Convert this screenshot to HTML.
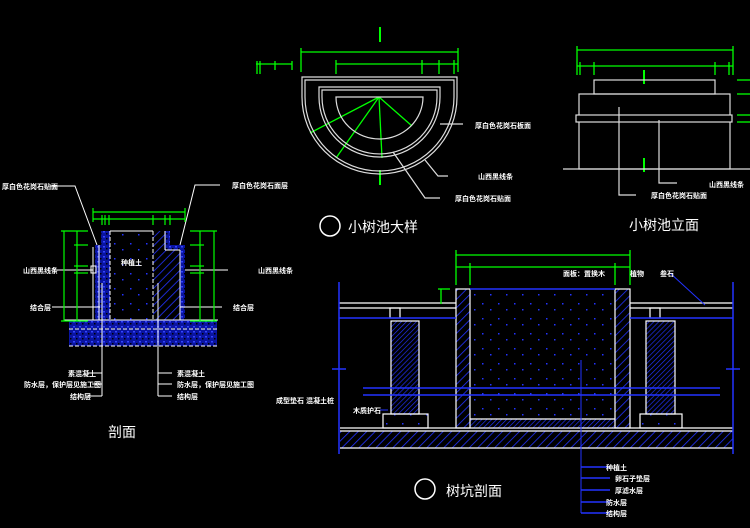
<!DOCTYPE html>
<html><head><meta charset="utf-8"><style>html,body{margin:0;padding:0;background:#000}svg{display:block}
text{font-family:"Liberation Sans","Noto Sans CJK SC",sans-serif;fill:#fff}</style></head><body>
<svg width="750" height="528" viewBox="0 0 750 528" xmlns="http://www.w3.org/2000/svg">
<defs>
<pattern id="h" width="6" height="6" patternUnits="userSpaceOnUse" patternTransform="rotate(45)"><rect width="6" height="6" fill="#000"/><line x1="0" y1="0" x2="0" y2="6" stroke="#2233ff" stroke-width="1.6"/></pattern>
<pattern id="h2" width="3.5" height="3.5" patternUnits="userSpaceOnUse" patternTransform="rotate(45)"><rect width="4" height="4" fill="#000"/><line x1="0" y1="0" x2="0" y2="4" stroke="#2233ff" stroke-width="1.3"/></pattern>
<pattern id="d" width="16" height="15" patternUnits="userSpaceOnUse"><rect width="16" height="15" fill="#000"/><rect x="2" y="3" width="1.5" height="1.5" fill="#2233ff"/><rect x="10" y="9" width="1.5" height="1.5" fill="#2233ff"/></pattern>
<pattern id="dd" width="6" height="5" patternUnits="userSpaceOnUse"><rect width="6" height="5" fill="#0a14a0"/><rect x="1" y="1" width="2" height="1.5" fill="#3344ff"/><rect x="4" y="3" width="1.5" height="1.5" fill="#000"/></pattern>
<pattern id="hd" width="6" height="6" patternUnits="userSpaceOnUse" patternTransform="rotate(45)"><rect width="6" height="6" fill="#0a14a0"/><line x1="0" y1="0" x2="0" y2="6" stroke="#3344ff" stroke-width="2"/></pattern>
</defs>

<!-- TOP PLAN -->
<g stroke="#0f0" stroke-width="1.3" fill="none">
<line x1="380" y1="27" x2="380" y2="42" stroke-width="2"/>
<line x1="301" y1="52" x2="458" y2="52"/><line x1="301" y1="48" x2="301" y2="72"/><line x1="458" y1="48" x2="458" y2="72"/>
<line x1="256" y1="64" x2="292" y2="64"/><line x1="257" y1="61" x2="257" y2="74"/><line x1="260" y1="61" x2="260" y2="74"/><line x1="275" y1="61" x2="275" y2="70"/><line x1="292" y1="61" x2="292" y2="70"/>
<line x1="336" y1="64" x2="458" y2="64"/><line x1="336" y1="60" x2="336" y2="74"/><line x1="422" y1="60" x2="422" y2="74"/><line x1="439" y1="60" x2="439" y2="74"/><line x1="454" y1="60" x2="454" y2="74"/>
<line x1="380" y1="170" x2="380" y2="185" stroke-width="2"/>
<line x1="379" y1="97" x2="310" y2="133"/><line x1="379" y1="97" x2="336" y2="158"/><line x1="379" y1="97" x2="382" y2="158"/><line x1="379" y1="97" x2="412" y2="126"/>
</g>
<g stroke="#ddd" stroke-width="1.2" fill="none">
<path d="M302,77 L457,77 L457,97 A77.5,77 0 0 1 302,97 Z"/>
<path d="M305,80 L454,80 L454,97 A74.5,74 0 0 1 305,97 Z"/>
<path d="M319,87 L440,87 L440,97 A60.5,60 0 0 1 319,97 Z"/>
<path d="M322,90 L437,90 L437,97 A57.5,57 0 0 1 322,97 Z"/>
<path d="M336,97 L423,97 A43.5,42 0 0 1 336,97 Z"/>
<line x1="440" y1="124" x2="463" y2="124"/>
<polyline points="425,160 438,176 448,176"/>
<polyline points="393,152 425,198 440,198"/>
</g>
<g font-size="7" font-weight="bold">
<text x="475" y="128">厚白色花岗石板面</text>
<text x="478" y="179">山西黑线条</text>
<text x="455" y="201">厚白色花岗石贴面</text>
</g>
<circle cx="330" cy="226" r="10" stroke="#fff" stroke-width="1.5" fill="none"/>
<text x="348" y="232" font-size="14">小树池大样</text>

<!-- ELEVATION -->
<g stroke="#0f0" stroke-width="1.3" fill="none">
<line x1="577" y1="50" x2="733" y2="50"/><line x1="577" y1="46" x2="577" y2="75"/><line x1="733" y1="46" x2="733" y2="75"/>
<line x1="577" y1="66" x2="733" y2="66"/><line x1="580" y1="62" x2="580" y2="75"/><line x1="594" y1="62" x2="594" y2="75"/><line x1="715" y1="62" x2="715" y2="75"/><line x1="729" y1="62" x2="729" y2="75"/>
<line x1="644" y1="70" x2="644" y2="84" stroke-width="2"/><line x1="644" y1="158" x2="644" y2="172" stroke-width="2"/>
<line x1="737" y1="80" x2="750" y2="80"/><line x1="737" y1="94" x2="750" y2="94"/><line x1="737" y1="115" x2="750" y2="115"/><line x1="737" y1="122" x2="750" y2="122"/>
</g>
<g stroke="#ddd" stroke-width="1.2" fill="none">
<rect x="594" y="80" width="121" height="14"/>
<rect x="579" y="94" width="151" height="75"/>
<rect x="576" y="115" width="156" height="7" fill="#000"/>
<line x1="563" y1="169" x2="750" y2="169"/>
<polyline points="619,107 619,195 636,195"/>
<polyline points="659,120 659,183 677,183"/>
</g>
<g font-size="7" font-weight="bold">
<text x="651" y="198">厚白色花岗石贴面</text>
<text x="709" y="187">山西黑线条</text>
</g>
<text x="629" y="230" font-size="14">小树池立面</text>

<!-- SECTION LEFT -->
<rect x="69" y="320" width="148" height="26" fill="url(#dd)"/>
<line x1="69" y1="329" x2="217" y2="329" stroke="#fff" stroke-dasharray="4,2"/>
<line x1="69" y1="346" x2="217" y2="346" stroke="#fff" stroke-dasharray="4,2"/>
<rect x="101" y="231" width="9" height="89" fill="url(#dd)"/>
<rect x="95" y="245" width="6" height="75" fill="url(#dd)"/>
<rect x="110" y="231" width="43" height="89" fill="url(#d)"/>
<path d="M153,231 L165,231 L165,250 L180,250 L180,320 L153,320 Z" fill="url(#h)"/>
<path d="M165,231 L170,231 L170,245 L185,245 L185,320 L180,320 L180,250 L165,250 Z" fill="url(#dd)"/>
<g stroke="#fff" stroke-width="1" fill="none">
<line x1="110" y1="231" x2="153" y2="231"/>
<line x1="110" y1="231" x2="110" y2="320" stroke-dasharray="4,2"/>
<line x1="153" y1="231" x2="153" y2="320" stroke-dasharray="4,2"/>
<line x1="99" y1="245" x2="99" y2="320"/><line x1="93" y1="247" x2="93" y2="320"/>
<line x1="165" y1="231" x2="165" y2="250"/><line x1="165" y1="250" x2="180" y2="250"/><line x1="180" y1="250" x2="180" y2="320"/>
<line x1="64" y1="320" x2="218" y2="320"/>
<rect x="91" y="266" width="5" height="7"/>
<line x1="102" y1="283" x2="102" y2="396"/><line x1="158" y1="283" x2="158" y2="396"/>
<line x1="88" y1="373" x2="102" y2="373"/><line x1="92" y1="384" x2="102" y2="384"/><line x1="88" y1="396" x2="102" y2="396"/>
<line x1="158" y1="373" x2="172" y2="373"/><line x1="158" y1="384" x2="172" y2="384"/><line x1="158" y1="396" x2="172" y2="396"/>
<polyline points="50,186 75,186 97,245"/>
<polyline points="220,185 195,185 180,245"/>
<line x1="52" y1="270" x2="93" y2="270"/><line x1="185" y1="270" x2="228" y2="270"/>
<line x1="52" y1="307" x2="100" y2="307"/><line x1="180" y1="307" x2="222" y2="307"/>
</g>
<g stroke="#0f0" stroke-width="1.2" fill="none">
<line x1="93" y1="212" x2="185" y2="212"/><line x1="93" y1="208" x2="93" y2="222"/><line x1="185" y1="208" x2="185" y2="222"/>
<line x1="93" y1="219" x2="185" y2="219"/><line x1="102" y1="215" x2="102" y2="225"/><line x1="105" y1="215" x2="105" y2="225"/><line x1="109" y1="215" x2="109" y2="225"/><line x1="153" y1="215" x2="153" y2="225"/><line x1="165" y1="215" x2="165" y2="225"/><line x1="170" y1="215" x2="170" y2="225"/>
<line x1="64" y1="231" x2="64" y2="321"/><line x1="77" y1="231" x2="77" y2="321"/>
<line x1="61" y1="231" x2="88" y2="231"/><line x1="61" y1="321" x2="88" y2="321"/><line x1="74" y1="245" x2="88" y2="245"/><line x1="74" y1="266" x2="88" y2="266"/><line x1="74" y1="273" x2="88" y2="273"/>
<line x1="200" y1="231" x2="200" y2="321"/><line x1="214" y1="231" x2="214" y2="321"/>
<line x1="190" y1="231" x2="217" y2="231"/><line x1="190" y1="321" x2="217" y2="321"/><line x1="190" y1="245" x2="204" y2="245"/><line x1="190" y1="266" x2="204" y2="266"/><line x1="190" y1="273" x2="204" y2="273"/>
</g>
<g font-size="7" font-weight="bold">
<text x="2" y="189">厚白色花岗石贴面</text>
<text x="232" y="188">厚白色花岗石面层</text>
<text x="23" y="273">山西黑线条</text>
<text x="258" y="273">山西黑线条</text>
<text x="30" y="310">结合层</text>
<text x="233" y="310">结合层</text>
<text x="121" y="265">种植土</text>
<text x="68" y="376">素混凝土</text>
<text x="24" y="387">防水层，保护层见施工图</text>
<text x="70" y="399">结构层</text>
<text x="177" y="376">素混凝土</text>
<text x="177" y="387">防水层，保护层见施工图</text>
<text x="177" y="399">结构层</text>
</g>
<text x="108" y="437" font-size="14">剖面</text>

<!-- SECTION RIGHT -->
<rect x="340" y="431" width="393" height="17" fill="url(#h)"/>
<rect x="470" y="289" width="145" height="130" fill="url(#d)"/>
<rect x="470" y="419" width="145" height="9" fill="url(#h2)"/>
<rect x="456" y="289" width="14" height="139" fill="url(#h)"/>
<rect x="615" y="289" width="15" height="139" fill="url(#h)"/>
<rect x="391" y="321" width="28" height="93" fill="url(#h2)"/>
<rect x="646" y="321" width="29" height="93" fill="url(#h2)"/>
<rect x="383" y="414" width="45" height="14" fill="url(#d)"/>
<rect x="640" y="414" width="42" height="14" fill="url(#d)"/>
<g stroke="#fff" stroke-width="1.2" fill="none">
<rect x="456" y="289" width="14" height="139"/><rect x="615" y="289" width="15" height="139"/>
<rect x="391" y="321" width="28" height="93"/><rect x="646" y="321" width="29" height="93"/>
<rect x="383" y="414" width="45" height="14"/><rect x="640" y="414" width="42" height="14"/>
<line x1="470" y1="419" x2="615" y2="419"/>
<line x1="339" y1="303" x2="456" y2="303"/><line x1="339" y1="308" x2="456" y2="308"/>
<line x1="630" y1="303" x2="733" y2="303"/><line x1="630" y1="308" x2="733" y2="308"/>
<line x1="340" y1="428" x2="733" y2="428"/><line x1="340" y1="431" x2="733" y2="431"/><line x1="340" y1="448" x2="733" y2="448"/>
<rect x="390" y="308" width="10" height="10"/><rect x="650" y="308" width="10" height="10"/>
</g>
<g stroke="#2233ff" stroke-width="1.5" fill="none">
<line x1="470" y1="289" x2="615" y2="289"/>
<line x1="339" y1="318" x2="456" y2="318"/><line x1="630" y1="318" x2="733" y2="318"/>
<line x1="339" y1="282" x2="339" y2="454"/><line x1="733" y1="282" x2="733" y2="454"/>
<line x1="332" y1="369" x2="346" y2="369"/><line x1="726" y1="369" x2="740" y2="369"/>
<line x1="363" y1="388" x2="720" y2="388"/><line x1="363" y1="395" x2="720" y2="395"/>
<line x1="581" y1="360" x2="581" y2="513" stroke-width="1"/>
<line x1="581" y1="467" x2="610" y2="467"/><line x1="581" y1="478" x2="610" y2="478"/><line x1="581" y1="490" x2="610" y2="490"/><line x1="581" y1="502" x2="610" y2="502"/><line x1="581" y1="513" x2="610" y2="513"/>
<polyline points="670,273 705,305" stroke-width="1"/>
<line x1="388" y1="410" x2="380" y2="410" stroke-width="1"/>
</g>
<g stroke="#0f0" stroke-width="1.3" fill="none">
<line x1="456" y1="255" x2="630" y2="255"/><line x1="456" y1="250" x2="456" y2="285"/><line x1="630" y1="250" x2="630" y2="285"/>
<line x1="456" y1="267" x2="630" y2="267"/><line x1="470" y1="263" x2="470" y2="285"/><line x1="615" y1="263" x2="615" y2="285"/>
<line x1="441" y1="289" x2="441" y2="304"/><line x1="438" y1="289" x2="450" y2="289"/>
</g>
<g font-size="7" font-weight="bold">
<text x="563" y="276">面板：置换木</text>
<text x="630" y="276">植物</text>
<text x="660" y="276">叁石</text>
<text x="276" y="403">成型垫石</text><text x="306" y="403">混凝土桩</text>
<text x="353" y="413">木质护石</text>
<text x="606" y="470">种植土</text>
<text x="615" y="481">卵石子垫层</text>
<text x="615" y="493">厚滤水层</text>
<text x="606" y="505">防水层</text>
<text x="606" y="516">结构层</text>
</g>
<circle cx="425" cy="489" r="10" stroke="#fff" stroke-width="1.5" fill="none"/>
<text x="446" y="496" font-size="14">树坑剖面</text>
</svg>
</body></html>
